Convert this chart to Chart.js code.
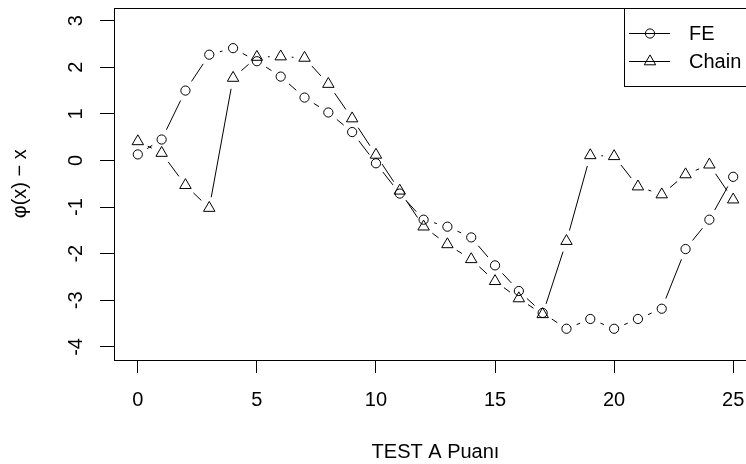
<!DOCTYPE html>
<html><head><meta charset="utf-8">
<script src="https://cdn.jsdelivr.net/npm/chart.js@4/dist/chart.umd.min.js"></script>
<style>
html,body{margin:0;padding:0;background:#fff;overflow:hidden;}
#wrap{width:746px;height:464px;overflow:hidden;position:relative;background:#fff;}
canvas{display:block;}
</style></head><body>
<div id="wrap"><canvas id="c" width="770" height="464"></canvas></div>
<script>
const scores = [0,1,2,3,4,5,6,7,8,9,10,11,12,13,14,15,16,17,18,19,20,21,22,23,24,25];
const feValues = [0.13,0.45,1.50,2.27,2.41,2.13,1.80,1.35,1.03,0.61,-0.06,-0.71,-1.27,-1.42,-1.65,-2.25,-2.80,-3.27,-3.61,-3.40,-3.61,-3.40,-3.18,-1.90,-1.27,-0.35];
const chainValues = [0.41,0.16,-0.53,-1.02,1.77,2.22,2.23,2.20,1.64,0.90,0.12,-0.65,-1.42,-1.80,-2.12,-2.59,-2.96,-3.30,-1.73,0.11,0.09,-0.56,-0.73,-0.30,-0.09,-0.84];
const xTickLabels = [0,5,10,15,20,25];
const yTickLabels = [-4,-3,-2,-1,0,1,2,3];
const seriesNames = ['FE','Chain'];
const xTitle = 'TEST A Puanı';
const yTitle = 'φ(x) − x';

const FONT = "'Liberation Sans', Arial, sans-serif";
const FS = 20;
const GAP = 11;

function gapDash(ctx){
  const a = ctx.p0, b = ctx.p1;
  const L = Math.hypot(b.x - a.x, b.y - a.y);
  const eps = ctx.p0DataIndex * 1e-4;
  if (L > 2 * GAP) return [0, GAP, L - 2 * GAP, GAP + 1000 + eps];
  return [0, L + 1000 + eps];
}

const pointStyles = ['circle', 'triangle'];
const pointRadii = [4.6, 6.6];

const rPlot = {
  id: 'rplot',
  afterDraw(chart){
    const {ctx, chartArea: a, scales: {y}} = chart;
    ctx.save();
    ctx.strokeStyle = '#000'; ctx.lineWidth = 1;
    ctx.strokeRect(Math.round(a.left) + 0.5, Math.round(a.top) + 0.5, Math.round(a.right - a.left), Math.round(a.bottom - a.top));
    ctx.fillStyle = '#000';
    ctx.font = FS + 'px ' + FONT;
    ctx.textAlign = 'center'; ctx.textBaseline = 'middle';
    yTickLabels.forEach(v => {
      const py = y.getPixelForValue(v);
      ctx.save(); ctx.translate(a.left - 39, py); ctx.rotate(-Math.PI / 2);
      ctx.fillText(String(v), 0, 1); ctx.restore();
    });
    // legend
    const lx = 624, ly = Math.round(a.top) + 0.5;
    ctx.fillStyle = '#fff';
    ctx.fillRect(lx, ly, a.right - lx, 78);
    ctx.strokeRect(lx + 0.5, ly, a.right - lx, 78);
    chart.data.datasets.forEach((ds, i) => {
      const ey = ly + 25 + i * 28;
      ctx.beginPath(); ctx.moveTo(lx + 5, ey); ctx.lineTo(lx + 46, ey);
      ctx.strokeStyle = '#000'; ctx.lineWidth = 1; ctx.stroke();
      ctx.fillStyle = 'rgba(0,0,0,0)';
      Chart.helpers.drawPoint(ctx, {pointStyle: ds.pointStyle, radius: ds.pointRadius, rotation: 0, borderWidth: 1}, lx + 26, ey);
      ctx.fillStyle = '#000';
      ctx.textAlign = 'left'; ctx.textBaseline = 'middle';
      ctx.fillText(ds.label, lx + 65, ey + 1);
    });
    ctx.restore();
  }
};

const datasets = [feValues, chainValues].map((vals, i) => ({
  label: seriesNames[i],
  data: scores.map((s, k) => ({x: s, y: vals[k]})),
  borderColor: '#000',
  borderWidth: 1,
  pointStyle: pointStyles[i],
  pointRadius: pointRadii[i],
  pointBorderWidth: 1,
  pointBorderColor: '#000',
  pointBackgroundColor: 'rgba(0,0,0,0)',
  fill: false,
  tension: 0,
  segment: { borderDash: gapDash }
}));

new Chart(document.getElementById('c'), {
  type: 'line',
  data: { datasets },
  options: {
    responsive: false,
    animation: false,
    devicePixelRatio: 1,
    layout: { padding: { top: 7, right: 13, left: 0, bottom: 0 } },
    plugins: { legend: { display: false }, tooltip: { enabled: false } },
    scales: {
      x: {
        type: 'linear', min: -1, max: 26,
        afterBuildTicks: s => { s.ticks = xTickLabels.map(v => ({value: v})); },
        afterFit: s => { s.height = 104; },
        grid: { drawOnChartArea: false, drawTicks: true, tickLength: 13, tickColor: '#000', lineWidth: 1 },
        border: { display: false },
        ticks: { color: '#000', font: { family: FONT, size: FS }, padding: 15, maxRotation: 0, autoSkip: false },
        title: { display: true, text: xTitle, color: '#000', font: { family: FONT, size: FS }, padding: { top: 0, bottom: 0 } }
      },
      y: {
        type: 'linear', min: -4.28, max: 3.28,
        afterBuildTicks: s => { s.ticks = yTickLabels.map(v => ({value: v})); },
        afterFit: s => { s.width = 114; },
        grid: { drawOnChartArea: false, drawTicks: true, tickLength: 14, tickColor: '#000', lineWidth: 1 },
        border: { display: false },
        ticks: { display: false },
        title: { display: true, text: yTitle, color: '#000', font: { family: FONT, size: FS }, padding: { top: 8, bottom: 0 } }
      }
    }
  },
  plugins: [rPlot]
});
</script>
</body></html>
